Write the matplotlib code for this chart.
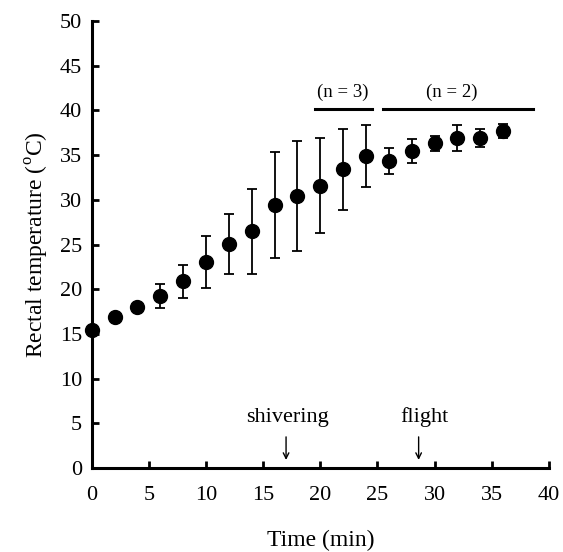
import matplotlib
matplotlib.use("Agg")
import matplotlib.pyplot as plt

plt.rcParams['font.family'] = ['Liberation Serif', 'DejaVu Serif']
plt.rcParams['mathtext.fontset'] = 'custom'
plt.rcParams['mathtext.rm'] = 'Liberation Serif'

time = [0, 2, 4, 6, 8, 10, 12, 14, 16, 18, 20, 22, 24, 26, 28, 30, 32, 34, 36]
temp = [15.4, 16.9, 18.0, 19.2, 20.9, 23.0, 25.1, 26.5, 29.4, 30.4, 31.6, 33.4, 34.9,
        34.3, 35.5, 36.3, 36.9, 36.9, 37.7]
sd = [0.3, 0.2, 0.4, 1.35, 1.85, 2.9, 3.35, 4.75, 5.9, 6.15, 5.3, 4.5, 3.45,
      1.45, 1.35, 0.85, 1.45, 1.0, 0.8]

groups = [("(n = 3)", 19.5, 24.5, 22.0), ("(n = 2)", 25.5, 38.6, 31.5)]
events = [("shivering", 17.0, 17.1), ("flight", 28.6, 29.1)]

fig = plt.figure(figsize=(5.63, 5.52), dpi=100)
ax = fig.add_axes([0.163, 0.152, 0.812, 0.810])

ax.errorbar(time, temp, yerr=sd, fmt='o', color='black', markersize=10,
            ecolor='black', elinewidth=1.3, capsize=3.5, capthick=1.3, clip_on=False, zorder=3)

for label, x0, x1, xt in groups:
    ax.plot([x0, x1], [40.2, 40.2], color='black', lw=2.2, clip_on=False)
    ax.text(xt, 41.0, label, ha='center', va='bottom', fontsize=13.5)

for label, xa, xt in events:
    ax.annotate('', xy=(xa, 0.6), xytext=(xa, 3.8),
                arrowprops=dict(arrowstyle='->', color='black', lw=1.0))
    ax.text(xt, 4.6, label, ha='center', va='bottom', fontsize=16)

ax.set_xlim(0, 40)
ax.set_ylim(0, 50)
ax.set_xticks(range(0, 41, 5))
ax.set_yticks(range(0, 51, 5))
for s in ['top', 'right']:
    ax.spines[s].set_visible(False)
for s in ['left', 'bottom']:
    ax.spines[s].set_linewidth(2.2)
ax.tick_params(direction='in', length=5, width=2, labelsize=16, pad=13)
ax.tick_params(axis='y', pad=7)
ax.set_xlabel('Time (min)', fontsize=17, labelpad=18)
ax.set_ylabel('Rectal temperature ($^{\\rm o}$C)', fontsize=17, labelpad=6)

fig.savefig('out.png', dpi=100)
